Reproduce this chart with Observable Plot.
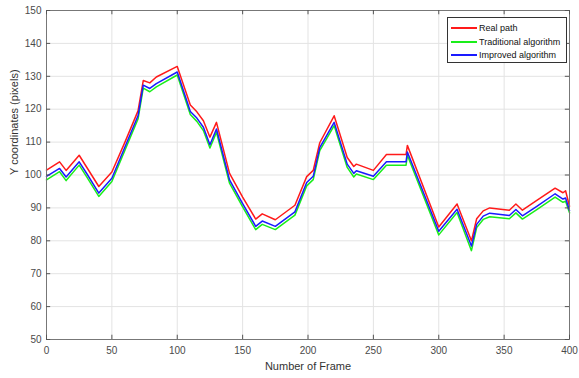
<!DOCTYPE html>
<html>
<head>
<meta charset="utf-8">
<script src="https://cdn.jsdelivr.net/npm/d3@7"></script>
<script src="https://cdn.jsdelivr.net/npm/@observablehq/plot@0.6"></script>
<style>
  html, body { margin: 0; padding: 0; background: #fff; }
  #wrap { position: relative; width: 579px; height: 378px; font-family: "Liberation Sans", Arial, sans-serif; }
  #legend { position: absolute; left: 447px; top: 17px; width: 120px; height: 46px; border: 1px solid #333; background: #fff; box-sizing: border-box; padding-top: 3px; }
  .row { height: 13.8px; display: flex; align-items: center; font-size: 9px; color: #111; }
  .sw { display: inline-block; width: 26px; height: 2px; margin-left: 3px; margin-right: 2px; }
</style>
</head>
<body>
<div id="wrap"></div>
<script>
const frames = [0,10,15,25,31,40,50,60,70,74,79,84,100,110,115,120,125,130,140,150,160,165,175,190,199,204,209,220,230,235,237,250,260,275,276,300,314,325,329,334,339,354,359,364,375,389,395,397,400];
const realPath = [101.5,104,101.4,106,102.2,96.5,100.9,110,119.5,128.7,128,129.8,133,121.3,119.2,116.5,111.5,116,100.5,93.3,86.6,88.2,86.4,90.8,99.5,101.4,109.8,118,105.3,102.6,103.3,101.4,106.2,106.2,109,84.2,91.2,80,86.7,89.1,90,89.3,91.2,89.3,92.3,96,94.6,95.2,90.5];
const traditional = [98.5,101,98.3,103,99.3,93.5,98,107.5,117,126.4,125.3,126.8,130.4,118.4,116.3,113.5,108.2,113,97.5,90.3,83.4,85,83.4,87.8,96.7,98.6,107.4,115,102.3,99.4,100.3,98.6,103,103,106,81.8,88.6,77,84,86.5,87.3,86.7,88.5,86.6,89.5,93.3,91.7,92,88.5];
const improved = [99.6,102,99.4,104,100.3,94.5,99,108.5,118,127.3,126.3,127.8,131.3,119.3,117.3,114.5,109.2,114,98.5,91.3,84.4,86,84.4,88.8,97.7,99.6,108.3,116,103.3,100.5,101.3,99.6,104,104,107,82.9,89.6,78.4,85,87.5,88.4,87.7,89.5,87.6,90.5,94.3,92.7,93,89.2];
const seriesNames = ["Real path", "Traditional algorithm", "Improved algorithm"];
const seriesColors = ["#ff1a1a", "#1aee1a", "#1a1aff"];
const xTicks = [0,50,100,150,200,250,300,350,400];
const yTicks = [50,60,70,80,90,100,110,120,130,140,150];

const rows = [];
[realPath, traditional, improved].forEach((vals, k) => {
  frames.forEach((f, i) => rows.push({frame: f, value: vals[i], series: seriesNames[k]}));
});

const gridCol = "#e3e3e3";
const tickCol = "#555";
const plot = Plot.plot({
  width: 579,
  height: 378,
  marginLeft: 46,
  marginRight: 10,
  marginTop: 10,
  marginBottom: 39,
  style: {fontSize: "10px", fontFamily: "Liberation Sans, Arial, sans-serif", color: "#4a4a4a", background: "#fff"},
  x: {domain: [0, 400], ticks: xTicks, tickSize: 0, tickPadding: 7, label: null},
  y: {domain: [50, 150], ticks: yTicks, tickSize: 0, tickPadding: 5, label: null},
  color: {domain: seriesNames, range: seriesColors},
  marks: [
    Plot.ruleX(xTicks, {x: d => d, stroke: gridCol, strokeWidth: 1}),
    Plot.ruleY(yTicks, {y: d => d, stroke: gridCol, strokeWidth: 1}),
    Plot.line(rows, {x: "frame", y: "value", z: "series", stroke: "series", strokeWidth: 1.5}),
    Plot.frame({stroke: "#777"}),
    Plot.ruleX(xTicks, {x: d => d, y1: 50, y2: 51.3, stroke: tickCol}),
    Plot.ruleX(xTicks, {x: d => d, y1: 150, y2: 148.7, stroke: tickCol}),
    Plot.ruleY(yTicks, {y: d => d, x1: 0, x2: 3.2, stroke: tickCol}),
    Plot.ruleY(yTicks, {y: d => d, x1: 400, x2: 396.8, stroke: tickCol}),
    Plot.text(["Number of Frame"], {frameAnchor: "bottom", dy: 30, fontSize: 11, fill: "#333"}),
    Plot.text(["Y coordinates (pixels)"], {frameAnchor: "left", rotate: -90, dx: -32, fontSize: 11, fill: "#333"})
  ]
});

const wrap = document.getElementById("wrap");
wrap.appendChild(plot);
const legend = document.createElement("div");
legend.id = "legend";
seriesNames.forEach((name, i) => {
  const r = document.createElement("div");
  r.className = "row";
  const sw = document.createElement("span");
  sw.className = "sw";
  sw.style.backgroundColor = seriesColors[i];
  const t = document.createElement("span");
  t.textContent = name;
  r.appendChild(sw);
  r.appendChild(t);
  legend.appendChild(r);
});
wrap.appendChild(legend);
</script>
</body>
</html>
